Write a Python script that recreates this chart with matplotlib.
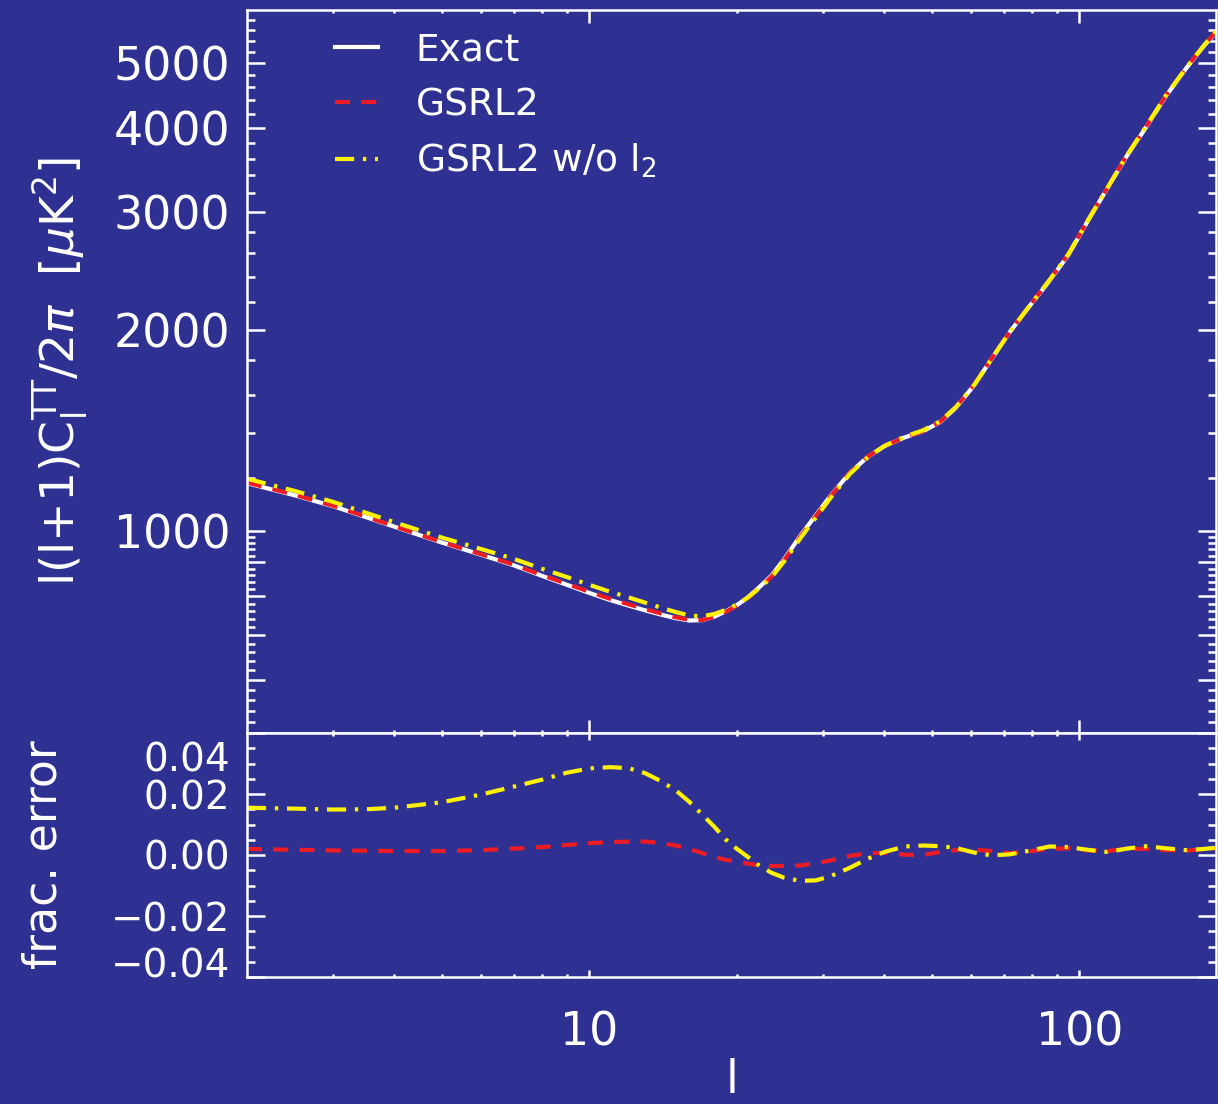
import numpy as np
import matplotlib
matplotlib.use("Agg")
import matplotlib.pyplot as plt
import matplotlib.transforms as mtransforms
from matplotlib.ticker import FixedLocator, FixedFormatter, NullFormatter

# Multipole grid shared by all series
ell = [2, 2.5, 3, 3.5, 4, 5, 6, 7, 8, 9, 10, 11, 12, 13, 14, 15, 16, 17, 18, 19,
       20, 21, 22, 23.5, 25, 27, 29, 31, 34, 37, 40, 44, 48, 52, 56, 61, 66, 72,
       79, 87, 95, 104, 114, 125, 137, 150, 165, 180, 190]

# Exact l(l+1)C_l/2pi in muK^2
dl_exact = [1180, 1132, 1090, 1050, 1016, 962, 923, 890, 858, 832, 809, 790, 775,
            762, 751, 742, 736, 737, 746, 760, 776, 796, 820, 858, 910, 987, 1058,
            1128, 1223, 1292, 1340, 1381, 1411, 1456, 1530, 1653, 1803, 1981, 2165,
            2369, 2587, 2905, 3250, 3635, 4017, 4459, 4906, 5316, 5553]

# Fractional errors (approx - exact) / exact
err_gsrl2 = [0.0020, 0.0017, 0.0015, 0.0014, 0.0013, 0.0013, 0.0016, 0.0021,
             0.0026, 0.0033, 0.0039, 0.0042, 0.0044, 0.0044, 0.0039, 0.0031,
             0.0020, 0.0006, -0.0007, -0.0016, -0.0022, -0.0028, -0.0033,
             -0.0036, -0.0036, -0.0034, -0.0027, -0.0018, -0.0003, 0.0006,
             0.0007, 0.0001, 0.0000, 0.0010, 0.0016, 0.0018, 0.0013, 0.0006,
             0.0012, 0.0020, 0.0022, 0.0015, 0.0013, 0.0020, 0.0020, 0.0016,
             0.0014, 0.0019, 0.0022]
err_no_l2 = [0.0155, 0.0152, 0.0149, 0.0150, 0.0155, 0.0173, 0.0198, 0.0224,
             0.0247, 0.0270, 0.0284, 0.0288, 0.0285, 0.0268, 0.0242, 0.0212,
             0.0174, 0.0132, 0.0092, 0.0050, 0.0020, -0.0005, -0.0030, -0.0058,
             -0.0075, -0.0085, -0.0083, -0.0070, -0.0042, -0.0012, 0.0010,
             0.0028, 0.0031, 0.0029, 0.0023, 0.0008, -0.0001, 0.0002, 0.0014,
             0.0028, 0.0026, 0.0017, 0.0010, 0.0021, 0.0029, 0.0022, 0.0016,
             0.0020, 0.0024]

series_labels = ["Exact", "GSRL2", "GSRL2 w/o l$_2$"]

x_major = [10, 100]
x_major_labels = ["10", "100"]
x_minor = [3, 4, 5, 6, 7, 8, 9, 20, 30, 40, 50, 60, 70, 80, 90]

top_major = [600, 700, 800, 900, 1000, 2000, 3000, 4000, 5000]
top_major_labels = ["", "", "", "", "1000", "2000", "3000", "4000", "5000"]
bot_major = [-0.04, -0.02, 0.0, 0.02, 0.04]
bot_major_labels = ["\u22120.04", "\u22120.02", "0.00", "0.02", "0.04"]

BG = "#2E3192"
FG = "white"
RED = "#ED1C24"
YEL = "#FFF200"

ell_a = np.array(ell)
exact_a = np.array(dl_exact)
gsrl2_a = exact_a * (1 + np.array(err_gsrl2))
nol2_a = exact_a * (1 + np.array(err_no_l2))

plt.rcParams["font.family"] = ["DejaVu Sans"]
plt.rcParams["mathtext.fontset"] = "dejavusans"

W, H = 1218, 1104
fig = plt.figure(figsize=(W / 100, H / 100), dpi=100, facecolor=BG)

x0, x1 = 247, 1216
ax_top = fig.add_axes([x0 / W, 1 - 733 / H, (x1 - x0) / W, (733 - 10) / H])
ax_bot = fig.add_axes([x0 / W, 1 - 977 / H, (x1 - x0) / W, (977 - 733) / H])

red_ls = (0, (3.6, 2.7))
yel_ls = (0, (4.6, 2.1, 0.8, 2.1))

ax_top.plot(ell_a, exact_a, color=FG, lw=3.0, label=series_labels[0])
ax_top.plot(ell_a, gsrl2_a, color=RED, lw=3.0, ls=red_ls, label=series_labels[1])
ax_top.plot(ell_a, nol2_a, color=YEL, lw=3.0, ls=yel_ls, label=series_labels[2])

ax_bot.plot(ell_a, err_gsrl2, color=RED, lw=3.0, ls=red_ls)
ax_bot.plot(ell_a, err_no_l2, color=YEL, lw=3.0, ls=yel_ls)

for ax in (ax_top, ax_bot):
    ax.set_facecolor(BG)
    ax.set_xscale("log")
    ax.set_xlim(2, 190)
    for s in ax.spines.values():
        s.set_color(FG)
        s.set_linewidth(1.8)
    ax.xaxis.set_major_locator(FixedLocator(x_major))
    ax.xaxis.set_minor_locator(FixedLocator(x_minor))
    ax.xaxis.set_minor_formatter(NullFormatter())
    ax.tick_params(which="both", direction="in", colors=FG, top=True, right=True,
                   width=1.8, labelsize=33)
    ax.tick_params(axis="y", which="major", length=13, pad=12)
    ax.tick_params(axis="y", which="minor", length=6)

# upper panel
ax_top.set_yscale("log")
ax_top.set_ylim(500, 6000)
ax_top.yaxis.set_major_locator(FixedLocator(top_major))
ax_top.yaxis.set_major_formatter(FixedFormatter(top_major_labels))
top_minor = [v for v in range(520, 1000, 20) if v % 100] + \
            [v for v in range(1200, 6000, 200) if v % 1000]
ax_top.yaxis.set_minor_locator(FixedLocator(top_minor))
ax_top.yaxis.set_minor_formatter(NullFormatter())
ax_top.tick_params(axis="x", which="major", length=9.5)
ax_top.tick_params(axis="x", which="minor", length=2.5)
ax_top.tick_params(axis="x", labelbottom=False)
ax_top.set_ylabel(r"l(l+1)C$_\mathrm{l}^\mathrm{TT}$/2$\pi$  [$\mu$K$^2$]",
                  color=FG, fontsize=34, labelpad=16)

leg = ax_top.legend(loc="upper left", bbox_to_anchor=(0.091, 0.969), frameon=False,
                    fontsize=27, handlelength=1.15, handletextpad=1.0,
                    labelspacing=0.5, borderpad=0, borderaxespad=0)
for t in leg.get_texts():
    t.set_color(FG)

# lower panel
ax_bot.set_ylim(-0.04, 0.04)
ax_bot.yaxis.set_major_locator(FixedLocator(bot_major))
ax_bot.yaxis.set_major_formatter(FixedFormatter(bot_major_labels))
ax_bot.yaxis.set_minor_locator(FixedLocator(np.arange(-0.035, 0.04, 0.005)))
ax_bot.yaxis.set_minor_formatter(NullFormatter())
ax_bot.xaxis.set_major_formatter(FixedFormatter(x_major_labels))
ax_bot.tick_params(axis="y", which="major", labelsize=28)
ax_bot.tick_params(axis="x", which="major", length=5, pad=24)
ax_bot.tick_params(axis="x", which="minor", length=2)
ax_bot.set_ylabel("frac. error", color=FG, fontsize=33, labelpad=32)
ax_bot.set_xlabel("l", color=FG, fontsize=33, labelpad=2)

# keep the end labels of the error axis inside the panel
ylabs = ax_bot.get_yticklabels()
shift_top = mtransforms.ScaledTranslation(0, -23 / 100, fig.dpi_scale_trans)
shift_bot = mtransforms.ScaledTranslation(0, 14 / 100, fig.dpi_scale_trans)
ylabs[-1].set_transform(ylabs[-1].get_transform() + shift_top)
ylabs[0].set_transform(ylabs[0].get_transform() + shift_bot)

fig.savefig("out.png", dpi=100, facecolor=BG)
